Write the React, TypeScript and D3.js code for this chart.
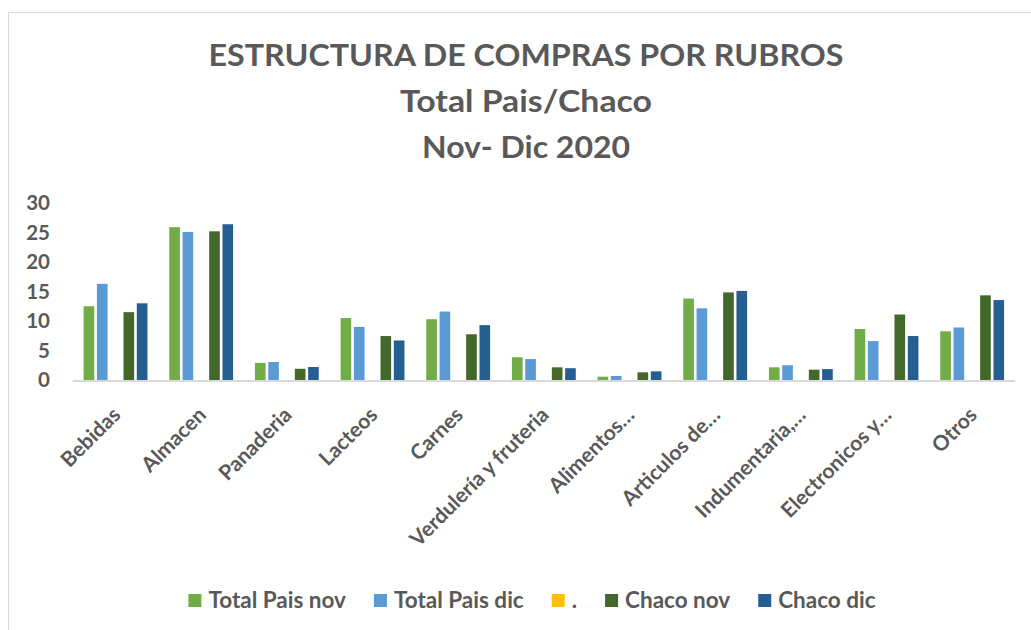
import React, { useEffect, useRef } from "react";
import * as d3 from "d3";

// rubros
const categories = [
  "Bebidas",
  "Almacen",
  "Panaderia",
  "Lacteos",
  "Carnes",
  "Verdulería y fruteria",
  "Alimentos…",
  "Articulos de…",
  "Indumentaria,…",
  "Electronicos y…",
  "Otros",
];

const seriesNames = ["Total Pais nov", "Total Pais dic", ".", "Chaco nov", "Chaco dic"];
const seriesColors = ["#70AD47", "#5B9BD5", "#FFC000", "#43682B", "#255E91"];

const totalPaisNov = [12.5, 25.9, 2.9, 10.5, 10.3, 3.85, 0.56, 13.8, 2.15, 8.65, 8.25];
const totalPaisDic = [16.3, 25.1, 3.05, 9.0, 11.6, 3.55, 0.68, 12.15, 2.5, 6.6, 8.9];
const dotSeries: (number | null)[] = categories.map(() => null); // serie "." sin valores
const chacoNov = [11.5, 25.2, 1.9, 7.45, 7.75, 2.15, 1.3, 14.85, 1.75, 11.1, 14.35];
const chacoDic = [13.0, 26.4, 2.2, 6.7, 9.3, 2.0, 1.47, 15.1, 1.85, 7.45, 13.55];

const yTicks = [0, 5, 10, 15, 20, 25, 30];

const titleLines = ["ESTRUCTURA DE COMPRAS POR RUBROS", "Total Pais/Chaco", "Nov- Dic 2020"];

const FONT = "Lato, 'Open Sans', sans-serif";
const TEXT = "#595959";

const App = () => {
  const container = useRef<HTMLDivElement>(null);

  useEffect(() => {
    const width = 1031;
    const height = 630;
    const plotLeft = 72.7;
    const plotRight = 1015;

    const allSeries = [totalPaisNov, totalPaisDic, dotSeries, chacoNov, chacoDic];
    const rows = categories.flatMap((c, i) =>
      allSeries.map((s, k) => ({ cat: c, key: seriesNames[k], color: seriesColors[k], value: s[i] }))
    );

    const x0 = d3.scaleBand().domain(categories).range([plotLeft, plotRight]).padding(0);
    const x1 = d3
      .scaleBand()
      .domain(seriesNames)
      .range([0, x0.bandwidth()])
      .paddingInner(0.2)
      .paddingOuter(0.82);
    const y = d3.scaleLinear().domain([0, 30]).range([380, 203]);

    const svg = d3
      .select(container.current)
      .append("svg")
      .attr("width", width)
      .attr("height", height)
      .attr("viewBox", [0, 0, width, height])
      .style("position", "absolute")
      .style("left", "0px")
      .style("top", "0px")
      .style("font-family", FONT);

    svg.append("rect").attr("width", width).attr("height", height).attr("fill", "#fff");
    // marco del grafico
    svg
      .append("rect")
      .attr("x", 8.5)
      .attr("y", 12.5)
      .attr("width", 1100)
      .attr("height", 700)
      .attr("fill", "none")
      .attr("stroke", "#d9d9d9");

    // titulo
    const titleBase = [66, 112, 158];
    const titleWidths = [635, 252, 208];
    svg
      .append("g")
      .selectAll("text")
      .data(titleLines)
      .join("text")
      .attr("x", 526)
      .attr("y", (d, i) => titleBase[i])
      .attr("text-anchor", "middle")
      .attr("font-size", 30)
      .attr("font-weight", 700)
      .attr("fill", TEXT)
      .attr("textLength", (d, i) => titleWidths[i])
      .attr("lengthAdjust", "spacingAndGlyphs")
      .text((d) => d);

    // eje y
    svg
      .append("g")
      .selectAll("text")
      .data(yTicks)
      .join("text")
      .attr("x", 50)
      .attr("y", (d) => y(d))
      .attr("dy", "0.36em")
      .attr("text-anchor", "end")
      .attr("font-size", 20.5)
      .attr("font-weight", 700)
      .attr("fill", TEXT)
      .text((d) => d);

    // barras
    svg
      .append("g")
      .selectAll("rect")
      .data(rows.filter((d) => d.value != null))
      .join("rect")
      .attr("x", (d) => (x0(d.cat) as number) + (x1(d.key) as number))
      .attr("y", (d) => y(d.value as number))
      .attr("width", x1.bandwidth())
      .attr("height", (d) => y(0) - y(d.value as number))
      .attr("fill", (d) => d.color);

    // eje x
    svg
      .append("line")
      .attr("x1", plotLeft)
      .attr("x2", plotRight)
      .attr("y1", 381)
      .attr("y2", 381)
      .attr("stroke", "#d9d9d9")
      .attr("stroke-width", 2);

    svg
      .append("g")
      .selectAll("text")
      .data(categories)
      .join("text")
      .attr("transform", (d) => `translate(${(x0(d) as number) + x0.bandwidth() / 2 + 1},411) rotate(-45)`)
      .attr("dy", "0.35em")
      .attr("text-anchor", "end")
      .attr("font-size", 21)
      .attr("font-weight", 700)
      .attr("fill", TEXT)
      .text((d) => d);

    // leyenda
    const legend = svg.append("g");
    let cursor = 0;
    seriesNames.forEach((name, k) => {
      const item = legend.append("g").attr("transform", `translate(${cursor},0)`);
      item
        .append("rect")
        .attr("x", 0)
        .attr("y", 594)
        .attr("width", 13)
        .attr("height", 13)
        .attr("fill", seriesColors[k]);
      const t = item
        .append("text")
        .attr("x", 20)
        .attr("y", 608)
        .attr("font-size", 22.5)
        .attr("font-weight", 700)
        .attr("fill", TEXT)
        .text(name);
      const w = (t.node() as SVGTextElement).getComputedTextLength();
      cursor += 20 + w + 28;
    });
    const legendWidth = cursor - 28;
    legend.attr("transform", `translate(${532 - legendWidth / 2},0)`);

    return () => {
      svg.remove();
    };
  }, []);

  return <div ref={container}></div>;
};

export default App;
